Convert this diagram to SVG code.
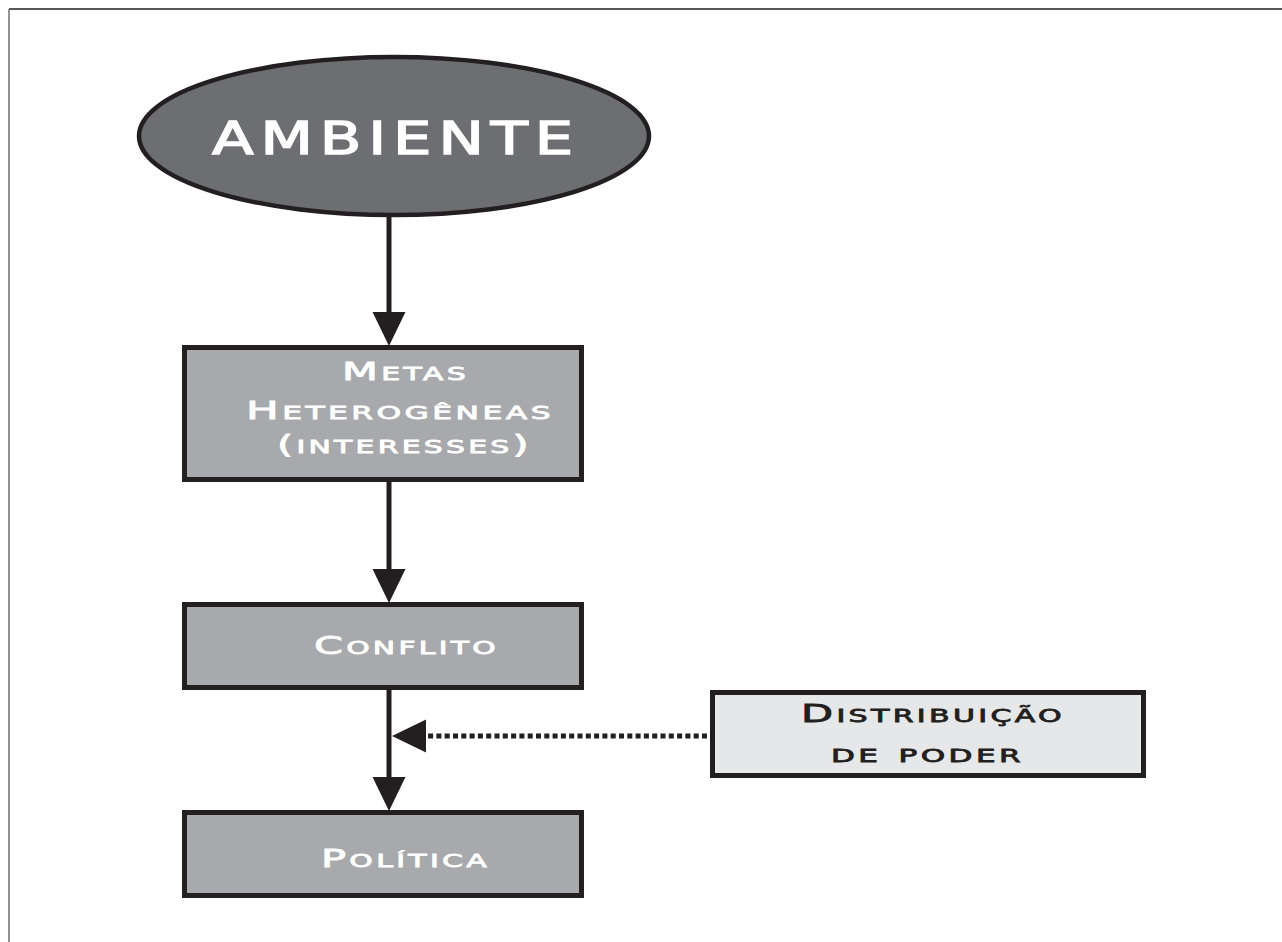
<svg xmlns="http://www.w3.org/2000/svg" width="1282" height="942" viewBox="0 0 1282 942">
<style>
.box{fill:#a7a9ac;stroke:#231f20;stroke-width:5}
.light{fill:#e6e7e8;stroke:#231f20;stroke-width:5}
.lbl{font-family:"DejaVu Sans","Liberation Sans",sans-serif;font-size:25px;font-variant:small-caps;fill:#ffffff;stroke:#ffffff;stroke-width:0.8;letter-spacing:2px}
.dark{fill:#231f20;stroke:#231f20}
.con{stroke:#231f20;stroke-width:5;fill:none}
.big{font-family:"DejaVu Sans","Liberation Sans",sans-serif;font-size:44px;fill:#ffffff;stroke:#ffffff;stroke-width:1.4;letter-spacing:5px}
</style>
<defs>
<marker id="ah" markerUnits="userSpaceOnUse" markerWidth="34" markerHeight="34" viewBox="0 0 33 32" refX="0" refY="16" orient="auto">
<path d="M0,0 L33,16 L0,32 Z" fill="#231f20"/>
</marker>
</defs>
<g id="frame">
<line x1="9" y1="9" x2="1282" y2="9" stroke="#231f20" stroke-width="1.5"/>
<line x1="9" y1="9" x2="9" y2="942" stroke="#6d6e71" stroke-width="1.5"/>
</g>
<g id="connectors">
<line class="con" x1="389" y1="217" x2="389" y2="312" marker-end="url(#ah)"/>
<line class="con" x1="389" y1="482" x2="389" y2="569" marker-end="url(#ah)"/>
<line class="con" x1="389" y1="690" x2="389" y2="777" marker-end="url(#ah)"/>
<line class="con" x1="707" y1="736" x2="426" y2="736" stroke-dasharray="5 3.3" marker-end="url(#ah)"/>
</g>
<g id="ambiente">
<ellipse cx="394" cy="136" rx="255" ry="79" fill="#6d6e71" stroke="#231f20" stroke-width="4.5"/>
<text class="big" x="212" y="154" textLength="368" lengthAdjust="spacingAndGlyphs">AMBIENTE</text>
</g>
<g id="metas">
<rect class="box" x="184.5" y="347.5" width="397" height="132"/>
<text class="lbl" x="342" y="380" textLength="127" lengthAdjust="spacingAndGlyphs">Metas</text>
<text class="lbl" x="246" y="419" textLength="308" lengthAdjust="spacingAndGlyphs">Heterogêneas</text>
<text class="lbl" x="277" y="453" textLength="255" lengthAdjust="spacingAndGlyphs">(interesses)</text>
</g>
<g id="conflito">
<rect class="box" x="184.5" y="604.5" width="397" height="83"/>
<text class="lbl" x="314" y="654" textLength="185" lengthAdjust="spacingAndGlyphs">Conflito</text>
</g>
<g id="distribuicao">
<rect class="light" x="712.5" y="692.5" width="431" height="83"/>
<text class="lbl dark" x="801" y="722" textLength="264" lengthAdjust="spacingAndGlyphs">Distribuição</text>
<text class="lbl dark" x="831" y="762" textLength="193" lengthAdjust="spacingAndGlyphs">de poder</text>
</g>
<g id="politica">
<rect class="box" x="184.5" y="812.5" width="397" height="83"/>
<text class="lbl" x="321" y="867" textLength="169" lengthAdjust="spacingAndGlyphs">Política</text>
</g>
</svg>
